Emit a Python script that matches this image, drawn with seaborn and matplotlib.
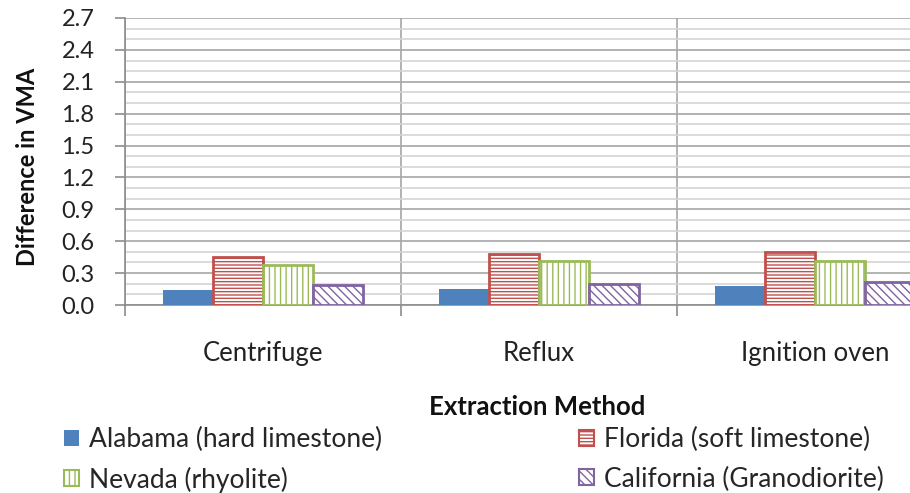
import matplotlib
matplotlib.use("Agg")
import matplotlib.pyplot as plt
from matplotlib.ticker import MultipleLocator, FixedLocator, FormatStrFormatter
from matplotlib.patches import Patch
import seaborn as sns
import pandas as pd

# Difference in VMA by extraction method and aggregate source
methods = ["Centrifuge", "Reflux", "Ignition oven"]
alabama = [0.14, 0.15, 0.18]
florida = [0.45, 0.48, 0.50]
nevada = [0.38, 0.41, 0.41]
california = [0.19, 0.20, 0.22]
sources = ["Alabama (hard limestone)", "Florida (soft limestone)",
           "Nevada (rhyolite)", "California (Granodiorite)"]

colors = ["#4F81BD", "#C0504D", "#9BBB59", "#8064A2"]
hatches = [None, "-----", "|||", "\\\\\\\\"]

rows = []
for src, vals in zip(sources, [alabama, florida, nevada, california]):
    for m, v in zip(methods, vals):
        rows.append({"method": m, "source": src, "value": v})
df = pd.DataFrame(rows)

sns.set_theme(style="white")
plt.rcParams["font.family"] = ["Lato", "DejaVu Sans"]
plt.rcParams["hatch.linewidth"] = 1.0

fig = plt.figure(figsize=(9.10, 4.93), dpi=100)
ax = fig.add_axes([125 / 910, (493 - 305) / 493, 828 / 910, (305 - 18) / 493])

sns.barplot(data=df, x="method", y="value", hue="source", order=methods,
            hue_order=sources, palette=colors, saturation=1, width=0.725,
            legend=False, ax=ax, zorder=3)

for cont, col, h in zip(ax.containers, colors, hatches):
    for bar in cont:
        if h is None:
            bar.set_facecolor(col)
            bar.set_edgecolor(col)
            bar.set_linewidth(0)
        else:
            bar.set_facecolor("white")
            bar.set_edgecolor(col)
            bar.set_hatch(h)
            bar.set_linewidth(2)

ax.set_xlim(-0.5, 2.5)
ax.set_ylim(0, 2.7)
ax.yaxis.set_major_locator(MultipleLocator(0.3))
ax.yaxis.set_minor_locator(MultipleLocator(0.1))
ax.yaxis.set_major_formatter(FormatStrFormatter("%.1f"))
ax.xaxis.set_minor_locator(FixedLocator([-0.5, 0.5, 1.5, 2.5]))

ax.grid(which="major", axis="y", color="#a6a6a6", linewidth=1.2, zorder=0)
ax.grid(which="minor", axis="y", color="#d4d4d4", linewidth=1.2, zorder=0)
ax.grid(which="minor", axis="x", color="#a6a6a6", linewidth=1.2, zorder=0)
ax.set_axisbelow(True)

for s in ["top", "right"]:
    ax.spines[s].set_visible(False)
for s in ["left", "bottom"]:
    ax.spines[s].set_color("#8c8c8c")
    ax.spines[s].set_linewidth(1.2)

ax.tick_params(axis="y", which="major", direction="out", length=7, width=1.2,
               color="#8c8c8c", labelsize=17, labelcolor="#222222", pad=15, left=True)
ax.tick_params(axis="y", which="minor", length=0)
ax.tick_params(axis="x", which="major", length=0, labelsize=18.5,
               labelcolor="#222222", pad=26)
ax.tick_params(axis="x", which="minor", direction="out", length=8, width=1.2,
               color="#8c8c8c", bottom=True)

ax.set_xlabel("Extraction Method", fontsize=18.5, fontweight="bold", color="#111111")
ax.set_ylabel("Difference in VMA", fontsize=17, fontweight="bold", color="#111111")
ax.xaxis.set_label_coords((537 - 125) / 828, -(395 - 305) / 287)
ax.yaxis.set_label_coords((39 - 125) / 828, (305 - 167) / 287)

handles = []
for col, h, src in zip(colors, hatches, sources):
    if h is None:
        handles.append(Patch(facecolor=col, edgecolor=col, linewidth=0, label=src))
    else:
        handles.append(Patch(facecolor="white", edgecolor=col, hatch=h,
                             linewidth=1.5, label=src))

leg_kw = dict(frameon=False, fontsize=19, handlelength=0.55, handleheight=0.55,
              handletextpad=0.4, labelspacing=0.55, borderaxespad=0, borderpad=0,
              loc="upper left")
fig.legend(handles=[handles[0], handles[2]], bbox_to_anchor=(64 / 910, 1 - 427 / 493), **leg_kw)
fig.legend(handles=[handles[1], handles[3]], bbox_to_anchor=(579 / 910, 1 - 427 / 493), **leg_kw)

fig.savefig("out.png", dpi=100)
